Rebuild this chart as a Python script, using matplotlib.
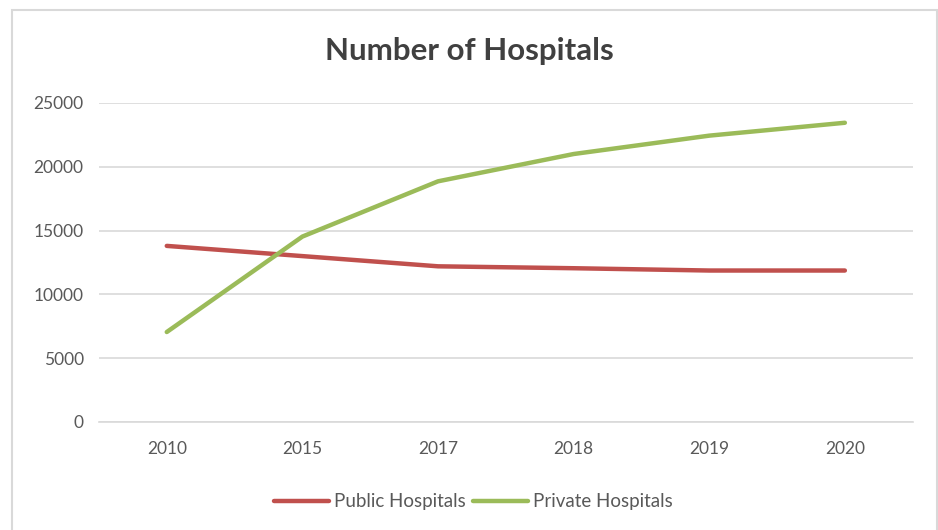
import matplotlib.pyplot as plt
import matplotlib.patches as patches

# data
years = ['2010', '2015', '2017', '2018', '2019', '2020']
public = [13800, 13000, 12200, 12050, 11870, 11870]
private = [7050, 14530, 18860, 21000, 22440, 23450]
yticks = [0, 5000, 10000, 15000, 20000, 25000]

RED = '#C0504D'
GREEN = '#9BBB59'
GRID = '#D9D9D9'
TXT = '#595959'

plt.rcParams['font.family'] = ['Lato', 'DejaVu Sans']

fig = plt.figure(figsize=(9.38, 5.30), dpi=100)
ax = fig.add_axes([0.1055, 0.2038, 0.8675, 0.6019])

x = list(range(len(years)))
ax.plot(x, public, color=RED, lw=3.2, solid_capstyle='round', label='Public Hospitals', zorder=3)
ax.plot(x, private, color=GREEN, lw=3.2, solid_capstyle='round', label='Private Hospitals', zorder=3)

ax.set_xlim(-0.5, len(years) - 0.5)
ax.set_ylim(0, 25000)
ax.set_xticks(x)
ax.set_xticklabels(years)
ax.set_yticks(yticks)
ax.set_yticklabels([str(v) for v in yticks])
ax.tick_params(axis='both', length=0, labelsize=12.5, colors=TXT)
ax.tick_params(axis='y', pad=11)
ax.tick_params(axis='x', pad=14)
ax.grid(axis='y', color=GRID, lw=1.2)
ax.set_axisbelow(True)
for s in ['top', 'right', 'left']:
    ax.spines[s].set_visible(False)
ax.spines['bottom'].set_color(GRID)
ax.spines['bottom'].set_linewidth(1.2)

fig.text(0.5, 0.903, 'Number of Hospitals', ha='center', va='center',
         fontsize=22.5, fontweight='bold', color='#404040')

fig.legend(loc='center', bbox_to_anchor=(0.505, 0.053), ncol=2, frameon=False,
           fontsize=13.5, labelcolor=TXT, handlelength=2.9, handletextpad=0.3,
           columnspacing=0.4)

# chart border
border = patches.Rectangle((12 / 938, -0.05), (937 - 12) / 938, 1.05 - 10 / 530,
                           transform=fig.transFigure, fill=False,
                           edgecolor=GRID, lw=1.5)
fig.patches.append(border)

fig.savefig('out.png', dpi=100)
